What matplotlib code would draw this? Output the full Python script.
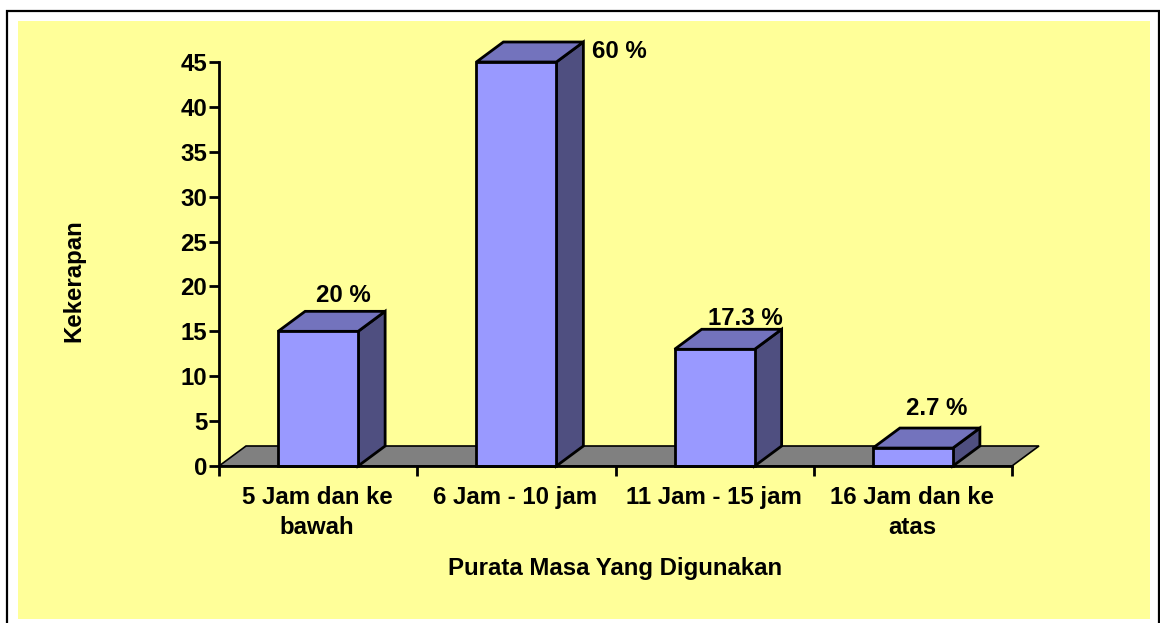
import matplotlib
matplotlib.use("Agg")
import matplotlib.pyplot as plt
from matplotlib.patches import Polygon, Rectangle

plt.rcParams["font.family"] = ["Liberation Sans", "DejaVu Sans"]
plt.rcParams["font.weight"] = "bold"

categorias = ["5 Jam dan ke\nbawah", "6 Jam - 10 jam", "11 Jam - 15 jam", "16 Jam dan ke\natas"]
valores = [15, 45, 13, 2]
etiquetas = ["20 %", "60 %", "17.3 %", "2.7 %"]
yticks = [0, 5, 10, 15, 20, 25, 30, 35, 40, 45]

amarillo = "#FFFF99"
frente = "#9999FF"
arriba = "#7373BD"
lado = "#4F4F80"
piso = "#808080"

W, H = 1160, 623
fs = 17.3
fig = plt.figure(figsize=(W / 100, H / 100), dpi=100, facecolor="white")

# marco exterior y fondo amarillo, en pixeles de la figura (el marco sigue bajo el borde)
fig.add_artist(Rectangle((7 / W, 1 - 640 / H), 1151.5 / W, 629 / H, transform=fig.transFigure,
                         facecolor="white", edgecolor="black", linewidth=1.6, zorder=-2))
fig.add_artist(Rectangle((18 / W, 1 - 618.5 / H), 1132 / W, 597.5 / H, transform=fig.transFigure,
                         facecolor=amarillo, edgecolor="none", zorder=-1))

ax = fig.add_axes([219 / W, 1 - 466 / H, 793 / W, 404 / H])
ax.patch.set_visible(False)
ax.set_xlim(0, 4)
ax.set_ylim(0, 45)

dx = 27 / 198.25  # profundidad en unidades de categoria
dy = 20 / (404 / 45)
ancho = 80 / 198.25
lw = 2.0


def poli(puntos, color, z):
    ax.add_patch(Polygon(puntos, closed=True, facecolor=color, edgecolor="black",
                         linewidth=lw, joinstyle="miter", clip_on=False, zorder=z))


# piso
ax.add_patch(Polygon([(0, 0), (dx, dy), (4 + dx, dy), (4, 0)], closed=True, facecolor=piso,
                     edgecolor="black", linewidth=1.2, clip_on=False, zorder=1))

for i, v in enumerate(valores):
    x0 = i + 0.5 - ancho / 2
    x1 = i + 0.5 + ancho / 2
    poli([(x1, 0), (x1 + dx, dy), (x1 + dx, v + dy), (x1, v)], lado, 2)
    poli([(x0, v), (x0 + dx, v + dy), (x1 + dx, v + dy), (x1, v)], arriba, 2)
    poli([(x0, 0), (x1, 0), (x1, v), (x0, v)], frente, 3)

for s in ["top", "right"]:
    ax.spines[s].set_visible(False)
for s in ["left", "bottom"]:
    ax.spines[s].set_linewidth(lw)
    ax.spines[s].set_zorder(5)

ax.set_yticks(yticks)
ax.set_xticks(range(5))
ax.set_xticklabels([])
ax.tick_params(axis="both", length=7, width=lw, labelsize=fs)
ax.tick_params(axis="y", pad=1.5)

for i, c in enumerate(categorias):
    ax.text(i + 0.5 - 0.005, -2.25, c, ha="center", va="top", fontsize=fs, linespacing=1.4)

# etiquetas de porcentaje
pos_etq = [(0.625, 19.0), (2.02, 46.2), (2.656, 16.4), (3.62, 6.4)]
for (xe, ye), t in zip(pos_etq, etiquetas):
    ax.text(xe, ye, t, ha="center", va="center", fontsize=fs)

fig.text(615 / W, 1 - 569 / H, "Purata Masa Yang Digunakan", ha="center", va="center", fontsize=fs)
fig.text(73.5 / W, 1 - 281 / H, "Kekerapan", ha="center", va="center", rotation=90, fontsize=fs)

fig.savefig("out.png", dpi=100)
